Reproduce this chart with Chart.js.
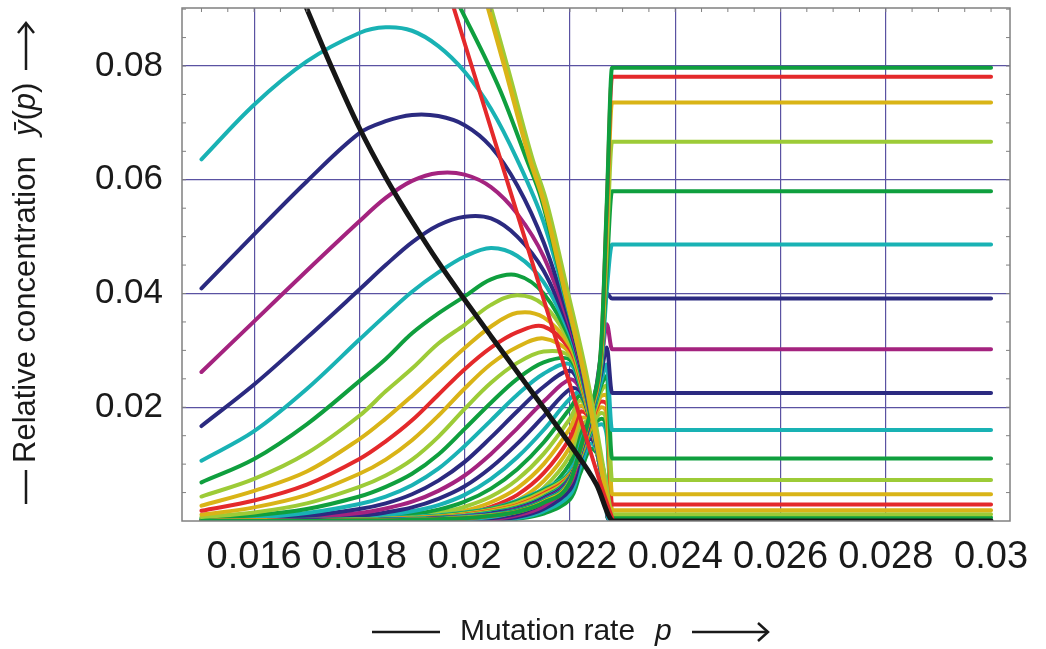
<!DOCTYPE html>
<html>
<head>
<meta charset="utf-8">
<script src="https://cdn.jsdelivr.net/npm/chart.js@4.4.0/dist/chart.umd.min.js"></script>
<style>
  html, body { margin: 0; padding: 0; background: #fff; }
  #wrap { width: 1046px; height: 649px; position: relative; }
</style>
</head>
<body>
<div id="wrap"><canvas id="chart"></canvas></div>
<script>
// Mutation-rate grid shared by the error-class curves (values left of the threshold)
const P = [0.015, 0.016, 0.017, 0.018, 0.0185, 0.019, 0.0195, 0.020, 0.0205, 0.021, 0.0215, 0.022, 0.0222, 0.0224, 0.0226, 0.0227];
const pThreshold = 0.0228;
const pEnd = 0.030;

// Tick values and labels
const xTickValues = [0.016, 0.018, 0.020, 0.022, 0.024, 0.026, 0.028, 0.030];
const xTickLabels = ['0.016', '0.018', '0.02', '0.022', '0.024', '0.026', '0.028', '0.03'];
const yTickValues = [0.02, 0.04, 0.06, 0.08];
const yTickLabels = ['0.02', '0.04', '0.06', '0.08'];

// Master sequence (black)
const masterP = [0.0169, 0.0170, 0.0175, 0.0180, 0.0185, 0.0190, 0.0195, 0.0200, 0.0205, 0.0210, 0.0215, 0.0220, 0.0225, 0.02283, 0.0300];
const masterY = [0.0923, 0.0901, 0.0792, 0.0691, 0.0604, 0.0527, 0.0455, 0.0389, 0.0325, 0.0262, 0.0199, 0.0135, 0.0065, 0.0000, 0.0000];

// Steep lines coming down from above the top
const steepRedP = [0.0197, 0.0209, 0.0220, 0.0226, 0.02282];
const steepRedY = [0.0930, 0.0570, 0.0240, 0.0060, 0.0000];
const steepGreenP = [0.01985, 0.02067, 0.02118, 0.02146, 0.0219, 0.02229, 0.02267, 0.0228];
const steepGreenY = [0.0915, 0.0758, 0.0635, 0.0565, 0.0400, 0.0249, 0.0056, 0.0000];
const steepYellowP = [0.0203, 0.02045, 0.02077, 0.02124, 0.02149, 0.0219, 0.02229, 0.02267, 0.0228];
const steepYellowY = [0.0952, 0.0901, 0.0795, 0.0635, 0.0565, 0.0405, 0.0249, 0.0056, 0.0000];
const steepLimeP = [0.02035, 0.0205, 0.02082, 0.02129, 0.02154, 0.02195, 0.02233, 0.0227, 0.0228];
const steepLimeY = [0.0952, 0.0901, 0.0795, 0.0635, 0.0565, 0.0405, 0.0249, 0.0056, 0.0000];

// Low error classes 1..30 (values on grid P, plateau ~0 above threshold)
const c01 = [0.0636, 0.0732, 0.0808, 0.0858, 0.0868, 0.0862, 0.0835, 0.0790, 0.0725, 0.0635, 0.0525, 0.0360, 0.0285, 0.0190, 0.0085, 0.0035];
const c02 = [0.0409, 0.0504, 0.0597, 0.0682, 0.0703, 0.0714, 0.0712, 0.0696, 0.0658, 0.0590, 0.0490, 0.0350, 0.0280, 0.0188, 0.0085, 0.0035];
const c03 = [0.0262, 0.0351, 0.0440, 0.0527, 0.0568, 0.0598, 0.0612, 0.0609, 0.0587, 0.0540, 0.0465, 0.0342, 0.0275, 0.0186, 0.0084, 0.0035];
const c04 = [0.0167, 0.0240, 0.0322, 0.0407, 0.0450, 0.0490, 0.0520, 0.0535, 0.0532, 0.0500, 0.0440, 0.0335, 0.0270, 0.0184, 0.0084, 0.0035];
const c05 = [0.0106, 0.0158, 0.0232, 0.0319, 0.0362, 0.0403, 0.0437, 0.0465, 0.0480, 0.0466, 0.0420, 0.0328, 0.0266, 0.0182, 0.0083, 0.0035];
const c06 = [0.0068, 0.0109, 0.0170, 0.0246, 0.0285, 0.0330, 0.0365, 0.0395, 0.0425, 0.0432, 0.0400, 0.0320, 0.0262, 0.0180, 0.0083, 0.0035];
const c07 = [0.0043, 0.0074, 0.0119, 0.0185, 0.0228, 0.0268, 0.0312, 0.0345, 0.0380, 0.0397, 0.0380, 0.0314, 0.0258, 0.0178, 0.0082, 0.0035];
const c08 = [0.0027, 0.0053, 0.0087, 0.0144, 0.0180, 0.0220, 0.0262, 0.0304, 0.0342, 0.0366, 0.0358, 0.0308, 0.0254, 0.0176, 0.0082, 0.0035];
const c09 = [0.0018, 0.0036, 0.0064, 0.0109, 0.0140, 0.0177, 0.0222, 0.0267, 0.0305, 0.0332, 0.0342, 0.0302, 0.0250, 0.0175, 0.0082, 0.0035];
const c10 = [0.0011, 0.0024, 0.0046, 0.0083, 0.0108, 0.0142, 0.0185, 0.0233, 0.0276, 0.0306, 0.0321, 0.0296, 0.0246, 0.0174, 0.0082, 0.0035];
const c11 = [0.0007, 0.0015, 0.0031, 0.0060, 0.0080, 0.0108, 0.0148, 0.0197, 0.0243, 0.0278, 0.0298, 0.0290, 0.0242, 0.0173, 0.0082, 0.0035];
const c12 = [0.0005, 0.0010, 0.0021, 0.0043, 0.0060, 0.0083, 0.0117, 0.0162, 0.0208, 0.0250, 0.0279, 0.0284, 0.0238, 0.0172, 0.0082, 0.0035];
const c13 = [0.0003, 0.0006, 0.0014, 0.0030, 0.0043, 0.0063, 0.0092, 0.0132, 0.0177, 0.0222, 0.0259, 0.0276, 0.0236, 0.0172, 0.0082, 0.0035];
const c14 = [0.0002, 0.0004, 0.0009, 0.0021, 0.0031, 0.0047, 0.0071, 0.0104, 0.0147, 0.0193, 0.0236, 0.0264, 0.0234, 0.0171, 0.0082, 0.0035];
const c15 = [0.0001, 0.0003, 0.0006, 0.0014, 0.0022, 0.0034, 0.0053, 0.0080, 0.0118, 0.0163, 0.0210, 0.0249, 0.0232, 0.0171, 0.0082, 0.0035];
const c16 = [0.0001, 0.0002, 0.0004, 0.0009, 0.0015, 0.0024, 0.0039, 0.0061, 0.0094, 0.0136, 0.0184, 0.0232, 0.0228, 0.0170, 0.0082, 0.0035];
const c17 = [0.0000, 0.0001, 0.0003, 0.0006, 0.0010, 0.0017, 0.0028, 0.0046, 0.0074, 0.0112, 0.0160, 0.0215, 0.0226, 0.0170, 0.0080, 0.0034];
const c18 = [0.0000, 0.0001, 0.0002, 0.0004, 0.0007, 0.0012, 0.0020, 0.0034, 0.0057, 0.0091, 0.0138, 0.0198, 0.0220, 0.0171, 0.0080, 0.0034];
const c19 = [0.0000, 0.0000, 0.0001, 0.0003, 0.0005, 0.0008, 0.0014, 0.0025, 0.0043, 0.0073, 0.0118, 0.0180, 0.0212, 0.0174, 0.0082, 0.0035];
const c20 = [0.0000, 0.0000, 0.0001, 0.0002, 0.0003, 0.0006, 0.0010, 0.0018, 0.0033, 0.0058, 0.0100, 0.0163, 0.0203, 0.0176, 0.0084, 0.0036];
const c21 = [0.0000, 0.0000, 0.0000, 0.0001, 0.0002, 0.0004, 0.0007, 0.0013, 0.0025, 0.0046, 0.0084, 0.0146, 0.0192, 0.0177, 0.0086, 0.0037];
const c22 = [0.0000, 0.0000, 0.0000, 0.0001, 0.0001, 0.0003, 0.0005, 0.0009, 0.0019, 0.0036, 0.0070, 0.0130, 0.0180, 0.0176, 0.0088, 0.0038];
const c23 = [0.0000, 0.0000, 0.0000, 0.0000, 0.0001, 0.0002, 0.0003, 0.0006, 0.0014, 0.0028, 0.0058, 0.0115, 0.0168, 0.0174, 0.0090, 0.0039];
const c24 = [0.0000, 0.0000, 0.0000, 0.0000, 0.0000, 0.0001, 0.0002, 0.0004, 0.0010, 0.0022, 0.0048, 0.0101, 0.0156, 0.0170, 0.0092, 0.0040];
const c25 = [0.0000, 0.0000, 0.0000, 0.0000, 0.0000, 0.0001, 0.0001, 0.0003, 0.0007, 0.0017, 0.0039, 0.0088, 0.0144, 0.0165, 0.0094, 0.0041];
const c26 = [0.0000, 0.0000, 0.0000, 0.0000, 0.0000, 0.0000, 0.0001, 0.0002, 0.0005, 0.0013, 0.0032, 0.0076, 0.0132, 0.0159, 0.0096, 0.0042];
const c27 = [0.0000, 0.0000, 0.0000, 0.0000, 0.0000, 0.0000, 0.0000, 0.0001, 0.0003, 0.0010, 0.0026, 0.0065, 0.0120, 0.0152, 0.0098, 0.0043];
const c28 = [0.0000, 0.0000, 0.0000, 0.0000, 0.0000, 0.0000, 0.0000, 0.0001, 0.0002, 0.0007, 0.0021, 0.0055, 0.0108, 0.0144, 0.0100, 0.0044];
const c29 = [0.0000, 0.0000, 0.0000, 0.0000, 0.0000, 0.0000, 0.0000, 0.0000, 0.0001, 0.0005, 0.0017, 0.0046, 0.0096, 0.0136, 0.0102, 0.0045];
const c30 = [0.0000, 0.0000, 0.0000, 0.0000, 0.0000, 0.0000, 0.0000, 0.0000, 0.0001, 0.0004, 0.0013, 0.0038, 0.0085, 0.0127, 0.0104, 0.0046];
const lowClasses = [c01, c02, c03, c04, c05, c06, c07, c08, c09, c10, c11, c12, c13, c14, c15,
                    c16, c17, c18, c19, c20, c21, c22, c23, c24, c25, c26, c27, c28, c29, c30];

// Upper classes that rise to the plateau above the threshold (top plateau first)
const u50 = [0, 0, 0, 0.0001, 0.0001, 0.0002, 0.0003, 0.0005, 0.0009, 0.0016, 0.0032, 0.0068, 0.0128, 0.0198, 0.0320, 0.0560];
const u49 = [0, 0, 0, 0.0001, 0.0001, 0.0002, 0.0003, 0.0005, 0.0009, 0.0016, 0.0032, 0.0068, 0.0127, 0.0196, 0.0315, 0.0550];
const u48 = [0, 0, 0, 0.0001, 0.0001, 0.0002, 0.0003, 0.0005, 0.0009, 0.0016, 0.0033, 0.0069, 0.0126, 0.0194, 0.0305, 0.0520];
const u47 = [0, 0, 0, 0.0001, 0.0001, 0.0002, 0.0003, 0.0006, 0.0010, 0.0017, 0.0034, 0.0070, 0.0125, 0.0192, 0.0295, 0.0480];
const u46 = [0, 0, 0, 0.0001, 0.0001, 0.0002, 0.0004, 0.0006, 0.0010, 0.0018, 0.0035, 0.0071, 0.0124, 0.0190, 0.0285, 0.0440];
const u45 = [0, 0, 0, 0.0001, 0.0002, 0.0003, 0.0004, 0.0007, 0.0011, 0.0019, 0.0036, 0.0072, 0.0123, 0.0188, 0.0277, 0.0405];
const u44 = [0, 0, 0.0001, 0.0001, 0.0002, 0.0003, 0.0004, 0.0007, 0.0012, 0.0020, 0.0037, 0.0073, 0.0122, 0.0186, 0.0300, 0.0400];
const u43 = [0, 0, 0.0001, 0.0001, 0.0002, 0.0003, 0.0005, 0.0008, 0.0012, 0.0021, 0.0038, 0.0074, 0.0121, 0.0184, 0.0280, 0.0346];
const u42 = [0, 0, 0.0001, 0.0001, 0.0002, 0.0003, 0.0005, 0.0008, 0.0013, 0.0022, 0.0040, 0.0075, 0.0120, 0.0182, 0.0262, 0.0305];
const u41 = [0, 0, 0.0001, 0.0002, 0.0002, 0.0004, 0.0005, 0.0009, 0.0014, 0.0023, 0.0041, 0.0076, 0.0119, 0.0180, 0.0248, 0.0275];
const u40 = [0, 0, 0.0001, 0.0002, 0.0003, 0.0004, 0.0006, 0.0009, 0.0015, 0.0024, 0.0042, 0.0077, 0.0118, 0.0178, 0.0240, 0.0255];
const u39 = [0, 0, 0.0001, 0.0002, 0.0003, 0.0004, 0.0006, 0.0010, 0.0016, 0.0025, 0.0044, 0.0078, 0.0117, 0.0176, 0.0230, 0.0238];
const u38 = [0, 0.0001, 0.0001, 0.0002, 0.0003, 0.0005, 0.0007, 0.0010, 0.0017, 0.0027, 0.0046, 0.0079, 0.0116, 0.0174, 0.0220, 0.0222];
const u37 = [0, 0.0001, 0.0001, 0.0002, 0.0003, 0.0005, 0.0007, 0.0011, 0.0018, 0.0028, 0.0048, 0.0080, 0.0115, 0.0172, 0.0210, 0.0206];
const u36 = [0, 0.0001, 0.0001, 0.0002, 0.0004, 0.0005, 0.0008, 0.0012, 0.0019, 0.0030, 0.0050, 0.0081, 0.0114, 0.0168, 0.0200, 0.0190];
const u35 = [0, 0.0001, 0.0001, 0.0003, 0.0004, 0.0006, 0.0008, 0.0013, 0.0020, 0.0032, 0.0052, 0.0082, 0.0113, 0.0164, 0.0190, 0.0175];
const u34 = [0, 0.0001, 0.0002, 0.0003, 0.0004, 0.0006, 0.0009, 0.0014, 0.0021, 0.0034, 0.0054, 0.0083, 0.0112, 0.0160, 0.0180, 0.0162];
const u33 = [0, 0.0001, 0.0002, 0.0003, 0.0005, 0.0007, 0.0010, 0.0015, 0.0022, 0.0036, 0.0056, 0.0084, 0.0111, 0.0156, 0.0170, 0.0150];
const upperClasses = [u50, u49, u48, u47, u46, u45, u44, u43, u42, u41, u40, u39, u38, u37, u36, u35, u34, u33];
const upperPlateau = [0.0797, 0.0781, 0.0736, 0.0667, 0.0580, 0.0486, 0.0391, 0.0302, 0.0225, 0.0160,
                      0.0110, 0.0072, 0.0047, 0.0029, 0.0019, 0.0012, 0.0006, 0.0003];

// Colours
const COL = {
  cyan: '#19b2b4', navy: '#2b2a80', purple: '#a4237f', green: '#0f9f3e',
  lime: '#9dcb37', yellow: '#d9b417', red: '#e4292b', black: '#161616'
};
const lowCycle = ['cyan', 'navy', 'purple', 'navy', 'cyan', 'green', 'lime', 'yellow', 'red', 'yellow', 'lime', 'green'];
const upperColors = ['green', 'red', 'yellow', 'lime', 'green', 'cyan', 'navy', 'purple', 'navy', 'cyan',
                     'green', 'lime', 'yellow', 'red', 'yellow', 'lime', 'green', 'cyan'];

const FONT = '"Liberation Sans", Arial, Helvetica, sans-serif';

function pairs(xs, ys) {
  return xs.map((x, i) => ({ x: x, y: ys[i] }));
}
function classSeries(vals, plateau) {
  return pairs(P, vals).concat([{ x: pThreshold, y: plateau }, { x: pEnd, y: plateau }]);
}
function lineSet(data, color, width, smooth) {
  const ds = {
    data: data,
    borderColor: color,
    borderWidth: width,
    pointRadius: 0,
    fill: false,
    borderCapStyle: 'round',
    borderJoinStyle: 'round'
  };
  if (smooth) {
    ds.tension = 0.35;
  } else {
    ds.cubicInterpolationMode = 'monotone';
  }
  return ds;
}

// First dataset is drawn on top
const datasets = [];
datasets.push(lineSet(pairs(masterP, masterY), COL.black, 5));
datasets.push(lineSet(pairs(steepRedP, steepRedY), COL.red, 4));
datasets.push(lineSet(pairs(steepYellowP, steepYellowY), COL.yellow, 4.5));
datasets.push(lineSet(pairs(steepLimeP, steepLimeY), COL.lime, 4.5));
datasets.push(lineSet(pairs(steepGreenP, steepGreenY), COL.green, 4));
upperClasses.forEach((vals, i) => {
  datasets.push(lineSet(classSeries(vals, upperPlateau[i]), COL[upperColors[i]], 4));
});
lowClasses.forEach((vals, i) => {
  datasets.push(lineSet(classSeries(vals, 0), COL[lowCycle[i % lowCycle.length]], 4, true));
});

// Frame, minor ticks and the axis titles with arrows
const decor = {
  id: 'decor',
  afterDatasetsDraw(chart) {
    const ctx = chart.ctx;
    const a = chart.chartArea;
    const xs = chart.scales.x, ys = chart.scales.y;
    ctx.save();
    ctx.strokeStyle = '#808080';
    ctx.lineWidth = 1.5;
    ctx.strokeRect(a.left, a.top, a.right - a.left, a.bottom - a.top);
    ctx.lineWidth = 1;
    ctx.beginPath();
    for (let i = 1; i * 0.005 < 0.0902; i++) {
      const py = ys.getPixelForValue(i * 0.005);
      ctx.moveTo(a.left, py); ctx.lineTo(a.left + 4, py);
      ctx.moveTo(a.right, py); ctx.lineTo(a.right - 4, py);
    }
    for (let i = 0; i <= 30; i++) {
      const px = xs.getPixelForValue(0.015 + i * 0.0005);
      ctx.moveTo(px, a.top); ctx.lineTo(px, a.top + 4);
    }
    ctx.stroke();
    ctx.restore();
  },
  afterDraw(chart) {
    const ctx = chart.ctx;
    ctx.save();
    ctx.fillStyle = '#1a1a1a';
    ctx.strokeStyle = '#1a1a1a';
    ctx.lineWidth = 2.5;
    ctx.lineCap = 'butt';

    // x title
    const ty = 632;
    ctx.beginPath(); ctx.moveTo(372, ty); ctx.lineTo(440, ty); ctx.stroke();
    ctx.textBaseline = 'middle';
    ctx.textAlign = 'left';
    ctx.font = '30px ' + FONT;
    ctx.fillText('Mutation rate', 460, ty);
    ctx.font = 'italic 30px ' + FONT;
    ctx.fillText('p', 655, ty);
    ctx.beginPath(); ctx.moveTo(692, ty); ctx.lineTo(767, ty); ctx.stroke();
    ctx.beginPath(); ctx.moveTo(758, ty - 9); ctx.lineTo(768, ty); ctx.lineTo(758, ty + 9); ctx.stroke();

    // y title (rotated, reading upwards)
    ctx.translate(26, 0);
    ctx.rotate(-Math.PI / 2);
    ctx.beginPath(); ctx.moveTo(-504, 0); ctx.lineTo(-470, 0); ctx.stroke();
    ctx.font = '31px ' + FONT;
    let u = -463;
    ctx.fillText('Relative concentration', u, 0);
    u = -136;
    const parts = [['italic', '\u0233'], ['', '('], ['italic', 'p'], ['', ')']];
    parts.forEach(([style, txt]) => {
      ctx.font = (style ? style + ' ' : '') + '31px ' + FONT;
      ctx.fillText(txt, u, 0);
      u += ctx.measureText(txt).width;
    });
    ctx.beginPath(); ctx.moveTo(-70, 0); ctx.lineTo(-24, 0); ctx.stroke();
    ctx.beginPath(); ctx.moveTo(-33, -8); ctx.lineTo(-23, 0); ctx.lineTo(-33, 8); ctx.stroke();
    ctx.restore();
  }
};

new Chart(document.getElementById('chart'), {
  type: 'line',
  data: { datasets: datasets },
  plugins: [decor],
  options: {
    responsive: true,
    maintainAspectRatio: false,
    animation: false,
    events: [],
    layout: { padding: { top: 8, right: 36, left: 0, bottom: 0 } },
    plugins: { legend: { display: false }, tooltip: { enabled: false } },
    scales: {
      x: {
        type: 'linear',
        min: 0.01463,
        max: 0.03036,
        afterBuildTicks: (scale) => { scale.ticks = xTickValues.map(v => ({ value: v })); },
        afterFit: (scale) => {
          scale.height = 128;
          scale.paddingLeft = 0;
          scale.paddingRight = 0;
        },
        ticks: {
          autoSkip: false,
          maxRotation: 0,
          padding: 14,
          color: '#1a1a1a',
          font: { family: FONT, size: 38 },
          callback: (v, i) => xTickLabels[i]
        },
        grid: {
          drawTicks: false,
          lineWidth: 1.2,
          color: (c) => (c.tick && Math.abs(c.tick.value - 0.03) < 1e-9) ? 'rgba(0,0,0,0)' : '#5a52a2'
        },
        border: { display: false }
      },
      y: {
        type: 'linear',
        min: 0,
        max: 0.0902,
        afterBuildTicks: (scale) => { scale.ticks = yTickValues.map(v => ({ value: v })); },
        afterFit: (scale) => {
          scale.width = 182;
          scale.paddingTop = 0;
          scale.paddingBottom = 0;
        },
        ticks: {
          autoSkip: false,
          padding: 19,
          color: '#1a1a1a',
          font: { family: FONT, size: 35 },
          callback: (v, i) => yTickLabels[i]
        },
        grid: { drawTicks: false, lineWidth: 1.2, color: '#5a52a2' },
        border: { display: false }
      }
    }
  }
});
</script>
</body>
</html>
